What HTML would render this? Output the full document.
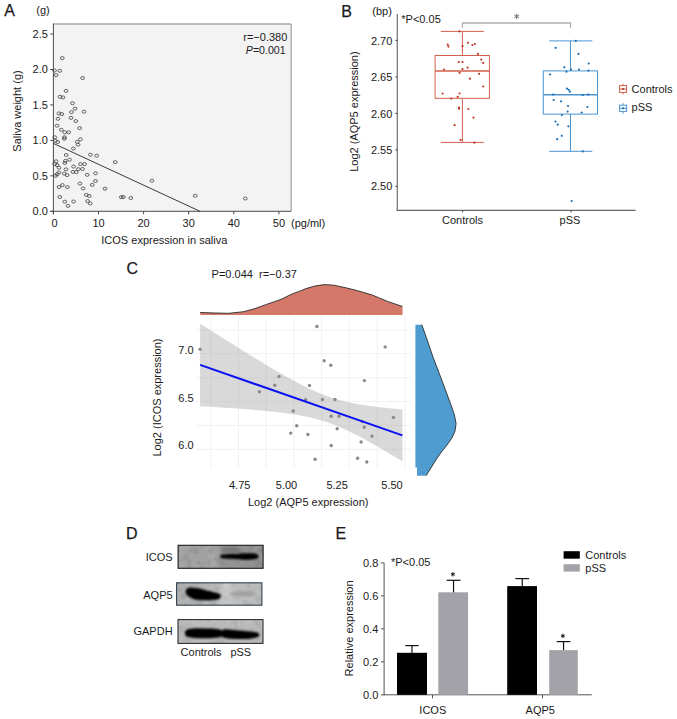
<!DOCTYPE html>
<html><head><meta charset="utf-8"><style>
html,body{margin:0;padding:0;background:#fff;}
svg{display:block;font-family:"Liberation Sans", sans-serif;}
</style></head><body>
<svg width="677" height="719" viewBox="0 0 677 719">
<rect x="0" y="0" width="677" height="719" fill="#fff"/>
<text x="4.20" y="16.00" font-size="16" text-anchor="start" fill="#1a1a1a" stroke="#1a1a1a" stroke-width="0.25">A</text>
<text x="36.30" y="13.80" font-size="11" text-anchor="start" fill="#1a1a1a" >(g)</text>
<rect x="53.40" y="24.00" width="237.80" height="187.30" fill="#f3f3f3" stroke="none" stroke-width="1" />
<line x1="53.40" y1="24.00" x2="291.20" y2="24.00" stroke="#a8a8a8" stroke-width="1.3" />
<line x1="291.20" y1="24.00" x2="291.20" y2="211.30" stroke="#a8a8a8" stroke-width="1.3" />
<line x1="53.40" y1="23.50" x2="53.40" y2="214.30" stroke="#4a4a4a" stroke-width="1" />
<line x1="50.20" y1="211.30" x2="291.20" y2="211.30" stroke="#4a4a4a" stroke-width="1" />
<line x1="50.20" y1="211.30" x2="53.40" y2="211.30" stroke="#4a4a4a" stroke-width="1" />
<text x="47.90" y="215.20" font-size="11" text-anchor="end" fill="#1a1a1a" >0.0</text>
<line x1="50.20" y1="175.85" x2="53.40" y2="175.85" stroke="#4a4a4a" stroke-width="1" />
<text x="47.90" y="179.75" font-size="11" text-anchor="end" fill="#1a1a1a" >0.5</text>
<line x1="50.20" y1="140.40" x2="53.40" y2="140.40" stroke="#4a4a4a" stroke-width="1" />
<text x="47.90" y="144.30" font-size="11" text-anchor="end" fill="#1a1a1a" >1.0</text>
<line x1="50.20" y1="104.95" x2="53.40" y2="104.95" stroke="#4a4a4a" stroke-width="1" />
<text x="47.90" y="108.85" font-size="11" text-anchor="end" fill="#1a1a1a" >1.5</text>
<line x1="50.20" y1="69.50" x2="53.40" y2="69.50" stroke="#4a4a4a" stroke-width="1" />
<text x="47.90" y="73.40" font-size="11" text-anchor="end" fill="#1a1a1a" >2.0</text>
<line x1="50.20" y1="34.05" x2="53.40" y2="34.05" stroke="#4a4a4a" stroke-width="1" />
<text x="47.90" y="37.95" font-size="11" text-anchor="end" fill="#1a1a1a" >2.5</text>
<line x1="53.40" y1="211.30" x2="53.40" y2="214.30" stroke="#4a4a4a" stroke-width="1" />
<text x="54.60" y="227.00" font-size="11" text-anchor="middle" fill="#1a1a1a" >0</text>
<line x1="98.50" y1="211.30" x2="98.50" y2="214.30" stroke="#4a4a4a" stroke-width="1" />
<text x="98.50" y="227.00" font-size="11" text-anchor="middle" fill="#1a1a1a" >10</text>
<line x1="143.60" y1="211.30" x2="143.60" y2="214.30" stroke="#4a4a4a" stroke-width="1" />
<text x="143.60" y="227.00" font-size="11" text-anchor="middle" fill="#1a1a1a" >20</text>
<line x1="188.70" y1="211.30" x2="188.70" y2="214.30" stroke="#4a4a4a" stroke-width="1" />
<text x="188.70" y="227.00" font-size="11" text-anchor="middle" fill="#1a1a1a" >30</text>
<line x1="233.80" y1="211.30" x2="233.80" y2="214.30" stroke="#4a4a4a" stroke-width="1" />
<text x="233.80" y="227.00" font-size="11" text-anchor="middle" fill="#1a1a1a" >40</text>
<line x1="278.90" y1="211.30" x2="278.90" y2="214.30" stroke="#4a4a4a" stroke-width="1" />
<text x="278.90" y="227.00" font-size="11" text-anchor="middle" fill="#1a1a1a" >50</text>
<text x="291.00" y="227.00" font-size="11" text-anchor="start" fill="#1a1a1a" >(pg/ml)</text>
<text x="164.30" y="244.00" font-size="11" text-anchor="middle" fill="#1a1a1a" >ICOS expression in saliva</text>
<text transform="translate(20.90,111.00) rotate(-90)" font-size="11" text-anchor="middle" fill="#1a1a1a">Saliva weight (g)</text>
<text x="287.30" y="40.90" font-size="11" text-anchor="end" fill="#1a1a1a" >r=−0.380</text>
<text x="285.6" y="54" font-size="10.6" text-anchor="end" fill="#1a1a1a"><tspan font-style="italic">P</tspan>=0.001</text>
<line x1="53.40" y1="143.40" x2="200.00" y2="211.30" stroke="#3a3a3a" stroke-width="1" />
<ellipse cx="62.3" cy="58.1" rx="1.9" ry="1.5" fill="none" stroke="#404040" stroke-width="0.8"/>
<ellipse cx="59.7" cy="70.8" rx="1.9" ry="1.5" fill="none" stroke="#404040" stroke-width="0.8"/>
<ellipse cx="54.5" cy="70.5" rx="1.9" ry="1.5" fill="none" stroke="#404040" stroke-width="0.8"/>
<ellipse cx="56.1" cy="75.1" rx="1.9" ry="1.5" fill="none" stroke="#404040" stroke-width="0.8"/>
<ellipse cx="82.6" cy="78.0" rx="1.9" ry="1.5" fill="none" stroke="#404040" stroke-width="0.8"/>
<ellipse cx="66.0" cy="90.9" rx="1.9" ry="1.5" fill="none" stroke="#404040" stroke-width="0.8"/>
<ellipse cx="59.9" cy="96.8" rx="1.9" ry="1.5" fill="none" stroke="#404040" stroke-width="0.8"/>
<ellipse cx="63.0" cy="97.4" rx="1.9" ry="1.5" fill="none" stroke="#404040" stroke-width="0.8"/>
<ellipse cx="72.5" cy="103.2" rx="1.9" ry="1.5" fill="none" stroke="#404040" stroke-width="0.8"/>
<ellipse cx="75.1" cy="108.6" rx="1.9" ry="1.5" fill="none" stroke="#404040" stroke-width="0.8"/>
<ellipse cx="71.5" cy="112.1" rx="1.9" ry="1.5" fill="none" stroke="#404040" stroke-width="0.8"/>
<ellipse cx="83.9" cy="111.7" rx="1.9" ry="1.5" fill="none" stroke="#404040" stroke-width="0.8"/>
<ellipse cx="58.9" cy="113.4" rx="1.9" ry="1.5" fill="none" stroke="#404040" stroke-width="0.8"/>
<ellipse cx="61.8" cy="114.1" rx="1.9" ry="1.5" fill="none" stroke="#404040" stroke-width="0.8"/>
<ellipse cx="71.0" cy="117.9" rx="1.9" ry="1.5" fill="none" stroke="#404040" stroke-width="0.8"/>
<ellipse cx="58.0" cy="118.8" rx="1.9" ry="1.5" fill="none" stroke="#404040" stroke-width="0.8"/>
<ellipse cx="75.8" cy="121.1" rx="1.9" ry="1.5" fill="none" stroke="#404040" stroke-width="0.8"/>
<ellipse cx="57.1" cy="125.7" rx="1.9" ry="1.5" fill="none" stroke="#404040" stroke-width="0.8"/>
<ellipse cx="79.6" cy="128.1" rx="1.9" ry="1.5" fill="none" stroke="#404040" stroke-width="0.8"/>
<ellipse cx="61.3" cy="129.8" rx="1.9" ry="1.5" fill="none" stroke="#404040" stroke-width="0.8"/>
<ellipse cx="64.8" cy="132.3" rx="1.9" ry="1.5" fill="none" stroke="#404040" stroke-width="0.8"/>
<ellipse cx="68.7" cy="132.3" rx="1.9" ry="1.5" fill="none" stroke="#404040" stroke-width="0.8"/>
<ellipse cx="64.4" cy="137.3" rx="1.9" ry="1.5" fill="none" stroke="#404040" stroke-width="0.8"/>
<ellipse cx="64.4" cy="138.7" rx="1.9" ry="1.5" fill="none" stroke="#404040" stroke-width="0.8"/>
<ellipse cx="54.7" cy="137.3" rx="1.9" ry="1.5" fill="none" stroke="#404040" stroke-width="0.8"/>
<ellipse cx="55.3" cy="140.8" rx="1.9" ry="1.5" fill="none" stroke="#404040" stroke-width="0.8"/>
<ellipse cx="57.7" cy="142.0" rx="1.9" ry="1.5" fill="none" stroke="#404040" stroke-width="0.8"/>
<ellipse cx="80.5" cy="139.4" rx="1.9" ry="1.5" fill="none" stroke="#404040" stroke-width="0.8"/>
<ellipse cx="77.2" cy="141.8" rx="1.9" ry="1.5" fill="none" stroke="#404040" stroke-width="0.8"/>
<ellipse cx="78.1" cy="144.7" rx="1.9" ry="1.5" fill="none" stroke="#404040" stroke-width="0.8"/>
<ellipse cx="73.4" cy="148.5" rx="1.9" ry="1.5" fill="none" stroke="#404040" stroke-width="0.8"/>
<ellipse cx="66.2" cy="155.0" rx="1.9" ry="1.5" fill="none" stroke="#404040" stroke-width="0.8"/>
<ellipse cx="90.4" cy="154.7" rx="1.9" ry="1.5" fill="none" stroke="#404040" stroke-width="0.8"/>
<ellipse cx="96.7" cy="155.7" rx="1.9" ry="1.5" fill="none" stroke="#404040" stroke-width="0.8"/>
<ellipse cx="115.2" cy="162.1" rx="1.9" ry="1.5" fill="none" stroke="#404040" stroke-width="0.8"/>
<ellipse cx="56.1" cy="161.3" rx="1.9" ry="1.5" fill="none" stroke="#404040" stroke-width="0.8"/>
<ellipse cx="65.4" cy="160.9" rx="1.9" ry="1.5" fill="none" stroke="#404040" stroke-width="0.8"/>
<ellipse cx="69.5" cy="159.7" rx="1.9" ry="1.5" fill="none" stroke="#404040" stroke-width="0.8"/>
<ellipse cx="64.8" cy="163.0" rx="1.9" ry="1.5" fill="none" stroke="#404040" stroke-width="0.8"/>
<ellipse cx="54.7" cy="163.9" rx="1.9" ry="1.5" fill="none" stroke="#404040" stroke-width="0.8"/>
<ellipse cx="57.1" cy="165.1" rx="1.9" ry="1.5" fill="none" stroke="#404040" stroke-width="0.8"/>
<ellipse cx="58.9" cy="167.7" rx="1.9" ry="1.5" fill="none" stroke="#404040" stroke-width="0.8"/>
<ellipse cx="80.5" cy="164.1" rx="1.9" ry="1.5" fill="none" stroke="#404040" stroke-width="0.8"/>
<ellipse cx="84.6" cy="164.1" rx="1.9" ry="1.5" fill="none" stroke="#404040" stroke-width="0.8"/>
<ellipse cx="73.6" cy="166.6" rx="1.9" ry="1.5" fill="none" stroke="#404040" stroke-width="0.8"/>
<ellipse cx="66.0" cy="169.4" rx="1.9" ry="1.5" fill="none" stroke="#404040" stroke-width="0.8"/>
<ellipse cx="78.4" cy="169.2" rx="1.9" ry="1.5" fill="none" stroke="#404040" stroke-width="0.8"/>
<ellipse cx="82.5" cy="169.0" rx="1.9" ry="1.5" fill="none" stroke="#404040" stroke-width="0.8"/>
<ellipse cx="73.0" cy="171.9" rx="1.9" ry="1.5" fill="none" stroke="#404040" stroke-width="0.8"/>
<ellipse cx="76.2" cy="172.1" rx="1.9" ry="1.5" fill="none" stroke="#404040" stroke-width="0.8"/>
<ellipse cx="58.9" cy="172.5" rx="1.9" ry="1.5" fill="none" stroke="#404040" stroke-width="0.8"/>
<ellipse cx="57.1" cy="174.2" rx="1.9" ry="1.5" fill="none" stroke="#404040" stroke-width="0.8"/>
<ellipse cx="55.7" cy="175.8" rx="1.9" ry="1.5" fill="none" stroke="#404040" stroke-width="0.8"/>
<ellipse cx="64.2" cy="173.6" rx="1.9" ry="1.5" fill="none" stroke="#404040" stroke-width="0.8"/>
<ellipse cx="67.1" cy="175.1" rx="1.9" ry="1.5" fill="none" stroke="#404040" stroke-width="0.8"/>
<ellipse cx="87.2" cy="174.8" rx="1.9" ry="1.5" fill="none" stroke="#404040" stroke-width="0.8"/>
<ellipse cx="95.5" cy="173.3" rx="1.9" ry="1.5" fill="none" stroke="#404040" stroke-width="0.8"/>
<ellipse cx="95.5" cy="181.0" rx="1.9" ry="1.5" fill="none" stroke="#404040" stroke-width="0.8"/>
<ellipse cx="79.9" cy="183.5" rx="1.9" ry="1.5" fill="none" stroke="#404040" stroke-width="0.8"/>
<ellipse cx="92.2" cy="184.9" rx="1.9" ry="1.5" fill="none" stroke="#404040" stroke-width="0.8"/>
<ellipse cx="62.4" cy="185.1" rx="1.9" ry="1.5" fill="none" stroke="#404040" stroke-width="0.8"/>
<ellipse cx="59.1" cy="187.0" rx="1.9" ry="1.5" fill="none" stroke="#404040" stroke-width="0.8"/>
<ellipse cx="67.4" cy="187.1" rx="1.9" ry="1.5" fill="none" stroke="#404040" stroke-width="0.8"/>
<ellipse cx="83.1" cy="188.4" rx="1.9" ry="1.5" fill="none" stroke="#404040" stroke-width="0.8"/>
<ellipse cx="105.0" cy="188.7" rx="1.9" ry="1.5" fill="none" stroke="#404040" stroke-width="0.8"/>
<ellipse cx="86.3" cy="194.9" rx="1.9" ry="1.5" fill="none" stroke="#404040" stroke-width="0.8"/>
<ellipse cx="89.2" cy="195.9" rx="1.9" ry="1.5" fill="none" stroke="#404040" stroke-width="0.8"/>
<ellipse cx="121.3" cy="197.2" rx="1.9" ry="1.5" fill="none" stroke="#404040" stroke-width="0.8"/>
<ellipse cx="123.3" cy="197.0" rx="1.9" ry="1.5" fill="none" stroke="#404040" stroke-width="0.8"/>
<ellipse cx="130.8" cy="198.0" rx="1.9" ry="1.5" fill="none" stroke="#404040" stroke-width="0.8"/>
<ellipse cx="59.8" cy="197.0" rx="1.9" ry="1.5" fill="none" stroke="#404040" stroke-width="0.8"/>
<ellipse cx="64.8" cy="201.7" rx="1.9" ry="1.5" fill="none" stroke="#404040" stroke-width="0.8"/>
<ellipse cx="73.6" cy="201.5" rx="1.9" ry="1.5" fill="none" stroke="#404040" stroke-width="0.8"/>
<ellipse cx="87.6" cy="201.1" rx="1.9" ry="1.5" fill="none" stroke="#404040" stroke-width="0.8"/>
<ellipse cx="90.2" cy="203.4" rx="1.9" ry="1.5" fill="none" stroke="#404040" stroke-width="0.8"/>
<ellipse cx="68.0" cy="205.9" rx="1.9" ry="1.5" fill="none" stroke="#404040" stroke-width="0.8"/>
<ellipse cx="151.9" cy="180.7" rx="1.9" ry="1.5" fill="none" stroke="#404040" stroke-width="0.8"/>
<ellipse cx="195.2" cy="195.8" rx="1.9" ry="1.5" fill="none" stroke="#404040" stroke-width="0.8"/>
<ellipse cx="245.4" cy="198.5" rx="1.9" ry="1.5" fill="none" stroke="#404040" stroke-width="0.8"/>
<text x="341.30" y="16.80" font-size="16" text-anchor="start" fill="#1a1a1a" stroke="#1a1a1a" stroke-width="0.25">B</text>
<text x="372.30" y="14.60" font-size="11" text-anchor="start" fill="#1a1a1a" >(bp)</text>
<line x1="397.30" y1="14.00" x2="397.30" y2="210.90" stroke="#7a7a7a" stroke-width="1.3" />
<line x1="396.80" y1="210.40" x2="635.70" y2="210.40" stroke="#6a6a6a" stroke-width="1.2" />
<line x1="395.50" y1="40.40" x2="397.30" y2="40.40" stroke="#444" stroke-width="1.1" />
<text x="392.30" y="45.10" font-size="11" text-anchor="end" fill="#1a1a1a" >2.70</text>
<line x1="395.50" y1="76.90" x2="397.30" y2="76.90" stroke="#444" stroke-width="1.1" />
<text x="392.30" y="81.30" font-size="11" text-anchor="end" fill="#1a1a1a" >2.65</text>
<line x1="395.50" y1="113.40" x2="397.30" y2="113.40" stroke="#444" stroke-width="1.1" />
<text x="392.30" y="117.50" font-size="11" text-anchor="end" fill="#1a1a1a" >2.60</text>
<line x1="395.50" y1="149.90" x2="397.30" y2="149.90" stroke="#444" stroke-width="1.1" />
<text x="392.30" y="153.70" font-size="11" text-anchor="end" fill="#1a1a1a" >2.55</text>
<line x1="395.50" y1="186.40" x2="397.30" y2="186.40" stroke="#444" stroke-width="1.1" />
<text x="392.30" y="189.90" font-size="11" text-anchor="end" fill="#1a1a1a" >2.50</text>
<line x1="462.50" y1="210.40" x2="462.50" y2="212.20" stroke="#444" stroke-width="1.1" />
<line x1="571.00" y1="210.40" x2="571.00" y2="212.20" stroke="#444" stroke-width="1.1" />
<text x="462.50" y="224.30" font-size="11" text-anchor="middle" fill="#1a1a1a" >Controls</text>
<text x="570.00" y="224.30" font-size="11" text-anchor="middle" fill="#1a1a1a" >pSS</text>
<text transform="translate(358.20,111.60) rotate(-90)" font-size="11" text-anchor="middle" fill="#1a1a1a">Log2 (AQP5 expression)</text>
<text x="401.30" y="22.60" font-size="11" text-anchor="start" fill="#1a1a1a" >*P&lt;0.05</text>
<polyline points="462.4,27.8 462.4,23.0 570.5,23.0 570.5,27.8" fill="none" stroke="#b0b0b0" stroke-width="1.3"/>
<line x1="516.70" y1="14.10" x2="516.70" y2="18.70" stroke="#6a6a6a" stroke-width="0.95" stroke-linecap="round"/>
<line x1="518.69" y1="15.25" x2="514.71" y2="17.55" stroke="#6a6a6a" stroke-width="0.95" stroke-linecap="round"/>
<line x1="518.69" y1="17.55" x2="514.71" y2="15.25" stroke="#6a6a6a" stroke-width="0.95" stroke-linecap="round"/>
<g stroke="#d3604e" stroke-width="1" fill="none">
<line x1="462.4" y1="31.4" x2="462.4" y2="55.5"/>
<line x1="462.4" y1="98.3" x2="462.4" y2="142.4"/>
<line x1="440.8" y1="31.4" x2="483.8" y2="31.4"/>
<line x1="440.8" y1="142.4" x2="483.8" y2="142.4"/>
<rect x="435.1" y="55.5" width="54.299999999999955" height="42.8"/>
<line x1="435.1" y1="71.0" x2="489.4" y2="71.0" stroke-width="1.6"/>
</g>
<g stroke="#4a94d0" stroke-width="1" fill="none">
<line x1="570.5" y1="40.9" x2="570.5" y2="70.9"/>
<line x1="570.5" y1="114.1" x2="570.5" y2="151.3"/>
<line x1="549.2" y1="40.9" x2="592.3" y2="40.9"/>
<line x1="549.2" y1="151.3" x2="592.3" y2="151.3"/>
<rect x="543.3" y="70.9" width="54.200000000000045" height="43.19999999999999"/>
<line x1="543.3" y1="94.8" x2="597.5" y2="94.8" stroke-width="1.6"/>
</g>
<circle cx="459.4" cy="31.4" r="1.1" fill="#c0392b"/>
<circle cx="447.8" cy="44.7" r="1.1" fill="#c0392b"/>
<circle cx="448.4" cy="46.6" r="1.1" fill="#c0392b"/>
<circle cx="462.5" cy="46.2" r="1.1" fill="#c0392b"/>
<circle cx="468" cy="42.8" r="1.1" fill="#c0392b"/>
<circle cx="472.4" cy="45" r="1.1" fill="#c0392b"/>
<circle cx="474.9" cy="44" r="1.1" fill="#c0392b"/>
<circle cx="477.9" cy="53.9" r="1.1" fill="#c0392b"/>
<circle cx="481.3" cy="59.6" r="1.1" fill="#c0392b"/>
<circle cx="483.2" cy="62.9" r="1.1" fill="#c0392b"/>
<circle cx="458.7" cy="62.1" r="1.1" fill="#c0392b"/>
<circle cx="462.5" cy="62.1" r="1.1" fill="#c0392b"/>
<circle cx="467.6" cy="67.6" r="1.1" fill="#c0392b"/>
<circle cx="444.1" cy="69.5" r="1.1" fill="#c0392b"/>
<circle cx="462.5" cy="69.1" r="1.1" fill="#c0392b"/>
<circle cx="459.6" cy="72.8" r="1.1" fill="#c0392b"/>
<circle cx="479.1" cy="73.8" r="1.1" fill="#c0392b"/>
<circle cx="469.9" cy="78.7" r="1.1" fill="#c0392b"/>
<circle cx="483.2" cy="86.5" r="1.1" fill="#c0392b"/>
<circle cx="442.6" cy="93.5" r="1.1" fill="#c0392b"/>
<circle cx="459.6" cy="93.5" r="1.1" fill="#c0392b"/>
<circle cx="457.7" cy="96.9" r="1.1" fill="#c0392b"/>
<circle cx="451.3" cy="98.6" r="1.1" fill="#c0392b"/>
<circle cx="459.1" cy="107.5" r="1.1" fill="#c0392b"/>
<circle cx="459.1" cy="108.7" r="1.1" fill="#c0392b"/>
<circle cx="468.3" cy="109" r="1.1" fill="#c0392b"/>
<circle cx="473.5" cy="117.6" r="1.1" fill="#c0392b"/>
<circle cx="454.6" cy="125.2" r="1.1" fill="#c0392b"/>
<circle cx="460.6" cy="139.9" r="1.1" fill="#c0392b"/>
<circle cx="474.4" cy="142.7" r="1.1" fill="#c0392b"/>
<circle cx="575.8" cy="40.9" r="1.1" fill="#1c6fb5"/>
<circle cx="555.6" cy="47.8" r="1.1" fill="#1c6fb5"/>
<circle cx="578.5" cy="53.9" r="1.1" fill="#1c6fb5"/>
<circle cx="588.8" cy="63.5" r="1.1" fill="#1c6fb5"/>
<circle cx="564.3" cy="67.3" r="1.1" fill="#1c6fb5"/>
<circle cx="571" cy="69.5" r="1.1" fill="#1c6fb5"/>
<circle cx="578.9" cy="69.5" r="1.1" fill="#1c6fb5"/>
<circle cx="588.4" cy="70.6" r="1.1" fill="#1c6fb5"/>
<circle cx="566.4" cy="71.7" r="1.1" fill="#1c6fb5"/>
<circle cx="550" cy="74.5" r="1.1" fill="#1c6fb5"/>
<circle cx="567" cy="88.6" r="1.1" fill="#1c6fb5"/>
<circle cx="568.7" cy="89.8" r="1.1" fill="#1c6fb5"/>
<circle cx="569.9" cy="91.7" r="1.1" fill="#1c6fb5"/>
<circle cx="553.2" cy="94.6" r="1.1" fill="#1c6fb5"/>
<circle cx="582.8" cy="95.1" r="1.1" fill="#1c6fb5"/>
<circle cx="588.2" cy="94.6" r="1.1" fill="#1c6fb5"/>
<circle cx="553.7" cy="100.1" r="1.1" fill="#1c6fb5"/>
<circle cx="561.1" cy="101.3" r="1.1" fill="#1c6fb5"/>
<circle cx="568" cy="106" r="1.1" fill="#1c6fb5"/>
<circle cx="587.4" cy="107" r="1.1" fill="#1c6fb5"/>
<circle cx="567.6" cy="111.6" r="1.1" fill="#1c6fb5"/>
<circle cx="581.7" cy="112.5" r="1.1" fill="#1c6fb5"/>
<circle cx="561.8" cy="115.1" r="1.1" fill="#1c6fb5"/>
<circle cx="555.5" cy="121.5" r="1.1" fill="#1c6fb5"/>
<circle cx="557.7" cy="124.7" r="1.1" fill="#1c6fb5"/>
<circle cx="568.4" cy="126.3" r="1.1" fill="#1c6fb5"/>
<circle cx="561.8" cy="135.8" r="1.1" fill="#1c6fb5"/>
<circle cx="557.2" cy="139.2" r="1.1" fill="#1c6fb5"/>
<circle cx="582.8" cy="151.4" r="1.1" fill="#1c6fb5"/>
<circle cx="571.7" cy="201" r="1.1" fill="#1c6fb5"/>
<g stroke="#d3604e" stroke-width="1" fill="none"><line x1="623.1" y1="83.8" x2="623.1" y2="94.3"/><rect x="619.6" y="85.6" width="7.0" height="6.800000000000011" fill="#fff"/><line x1="619.6" y1="89.0" x2="626.6" y2="89.0"/></g>
<circle cx="623.1" cy="89.0" r="1.1" fill="#c0392b"/>
<g stroke="#4a94d0" stroke-width="1" fill="none"><line x1="623.1" y1="103.2" x2="623.1" y2="113.6"/><rect x="619.6" y="105.2" width="7.0" height="6.200000000000003" fill="#fff"/><line x1="619.6" y1="108.30000000000001" x2="626.6" y2="108.30000000000001"/></g>
<circle cx="623.1" cy="108.30000000000001" r="1.1" fill="#1c6fb5"/>
<text x="631.60" y="92.90" font-size="11" text-anchor="start" fill="#1a1a1a" >Controls</text>
<text x="631.60" y="111.30" font-size="11" text-anchor="start" fill="#1a1a1a" >pSS</text>
<text x="126.40" y="274.40" font-size="16" text-anchor="start" fill="#1a1a1a" stroke="#1a1a1a" stroke-width="0.25">C</text>
<text x="211.60" y="278.40" font-size="11" text-anchor="start" fill="#1a1a1a" >P=0.044&#160;&#160;r=−0.37</text>
<line x1="211.00" y1="317.00" x2="211.00" y2="467.70" stroke="#f1f1f1" stroke-width="1" />
<line x1="238.50" y1="317.00" x2="238.50" y2="467.70" stroke="#f1f1f1" stroke-width="1" />
<line x1="266.20" y1="317.00" x2="266.20" y2="467.70" stroke="#f1f1f1" stroke-width="1" />
<line x1="293.90" y1="317.00" x2="293.90" y2="467.70" stroke="#f1f1f1" stroke-width="1" />
<line x1="321.70" y1="317.00" x2="321.70" y2="467.70" stroke="#f1f1f1" stroke-width="1" />
<line x1="349.30" y1="317.00" x2="349.30" y2="467.70" stroke="#f1f1f1" stroke-width="1" />
<line x1="377.20" y1="317.00" x2="377.20" y2="467.70" stroke="#f1f1f1" stroke-width="1" />
<line x1="405.00" y1="317.00" x2="405.00" y2="467.70" stroke="#f1f1f1" stroke-width="1" />
<line x1="196.00" y1="330.10" x2="410.50" y2="330.10" stroke="#f1f1f1" stroke-width="1" />
<line x1="196.00" y1="353.60" x2="410.50" y2="353.60" stroke="#f1f1f1" stroke-width="1" />
<line x1="196.00" y1="377.80" x2="410.50" y2="377.80" stroke="#f1f1f1" stroke-width="1" />
<line x1="196.00" y1="401.40" x2="410.50" y2="401.40" stroke="#f1f1f1" stroke-width="1" />
<line x1="196.00" y1="425.40" x2="410.50" y2="425.40" stroke="#f1f1f1" stroke-width="1" />
<line x1="196.00" y1="449.30" x2="410.50" y2="449.30" stroke="#f1f1f1" stroke-width="1" />
<polygon points="200.10,323.63 203.47,325.77 206.84,327.92 210.22,330.06 213.59,332.20 216.96,334.34 220.33,336.47 223.70,338.60 227.07,340.72 230.44,342.84 233.82,344.95 237.19,347.06 240.56,349.16 243.93,351.26 247.30,353.35 250.67,355.43 254.05,357.50 257.42,359.56 260.79,361.61 264.16,363.64 267.53,365.67 270.90,367.67 274.28,369.67 277.65,371.64 281.02,373.59 284.39,375.51 287.76,377.41 291.13,379.28 294.51,381.11 297.88,382.91 301.25,384.66 304.62,386.36 307.99,388.01 311.37,389.60 314.74,391.12 318.11,392.58 321.48,393.96 324.85,395.26 328.22,396.49 331.59,397.63 334.97,398.70 338.34,399.68 341.71,400.59 345.08,401.43 348.45,402.21 351.82,402.92 355.20,403.58 358.57,404.19 361.94,404.75 365.31,405.28 368.68,405.77 372.05,406.23 375.43,406.66 378.80,407.06 382.17,407.45 385.54,407.81 388.91,408.16 392.28,408.49 395.66,408.80 399.03,409.10 402.40,409.40 402.40,461.41 399.03,459.35 395.66,457.30 392.28,455.27 388.91,453.25 385.54,451.24 382.17,449.26 378.80,447.29 375.43,445.34 372.05,443.43 368.68,441.53 365.31,439.67 361.94,437.85 358.57,436.06 355.20,434.32 351.82,432.63 348.45,431.00 345.08,429.42 341.71,427.91 338.34,426.47 334.97,425.11 331.59,423.82 328.22,422.61 324.85,421.49 321.48,420.44 318.11,419.47 314.74,418.58 311.37,417.75 307.99,416.99 304.62,416.29 301.25,415.64 297.88,415.05 294.51,414.49 291.13,413.97 287.76,413.49 284.39,413.04 281.02,412.61 277.65,412.21 274.28,411.84 270.90,411.48 267.53,411.13 264.16,410.81 260.79,410.49 257.42,410.19 254.05,409.90 250.67,409.62 247.30,409.35 243.93,409.09 240.56,408.84 237.19,408.59 233.82,408.35 230.44,408.11 227.07,407.88 223.70,407.65 220.33,407.43 216.96,407.21 213.59,407.00 210.22,406.79 206.84,406.58 203.47,406.38 200.10,406.17" fill="#999999" fill-opacity="0.3725"/>
<circle cx="200.1" cy="349.3" r="1.7" fill="#8a8a8a"/>
<circle cx="316.9" cy="326.5" r="1.7" fill="#8a8a8a"/>
<circle cx="385.2" cy="346.9" r="1.7" fill="#8a8a8a"/>
<circle cx="324.2" cy="360.7" r="1.7" fill="#8a8a8a"/>
<circle cx="330.8" cy="365.3" r="1.7" fill="#8a8a8a"/>
<circle cx="364.4" cy="380.6" r="1.7" fill="#8a8a8a"/>
<circle cx="279" cy="376.4" r="1.7" fill="#8a8a8a"/>
<circle cx="274.8" cy="385.2" r="1.7" fill="#8a8a8a"/>
<circle cx="259.4" cy="391.7" r="1.7" fill="#8a8a8a"/>
<circle cx="309.5" cy="385.5" r="1.7" fill="#8a8a8a"/>
<circle cx="305.6" cy="399.7" r="1.7" fill="#8a8a8a"/>
<circle cx="322.4" cy="399.5" r="1.7" fill="#8a8a8a"/>
<circle cx="335" cy="399.5" r="1.7" fill="#8a8a8a"/>
<circle cx="293.2" cy="411" r="1.7" fill="#8a8a8a"/>
<circle cx="296.7" cy="425.7" r="1.7" fill="#8a8a8a"/>
<circle cx="290.7" cy="433.1" r="1.7" fill="#8a8a8a"/>
<circle cx="307.9" cy="434.5" r="1.7" fill="#8a8a8a"/>
<circle cx="331.2" cy="416.3" r="1.7" fill="#8a8a8a"/>
<circle cx="339" cy="416.3" r="1.7" fill="#8a8a8a"/>
<circle cx="393.4" cy="417.5" r="1.7" fill="#8a8a8a"/>
<circle cx="362.4" cy="421.6" r="1.7" fill="#8a8a8a"/>
<circle cx="364.3" cy="427.3" r="1.7" fill="#8a8a8a"/>
<circle cx="337.2" cy="428.7" r="1.7" fill="#8a8a8a"/>
<circle cx="372" cy="436.1" r="1.7" fill="#8a8a8a"/>
<circle cx="361.1" cy="442" r="1.7" fill="#8a8a8a"/>
<circle cx="331.2" cy="445.5" r="1.7" fill="#8a8a8a"/>
<circle cx="315.1" cy="459.3" r="1.7" fill="#8a8a8a"/>
<circle cx="357.6" cy="458.3" r="1.7" fill="#8a8a8a"/>
<circle cx="366.8" cy="462" r="1.7" fill="#8a8a8a"/>
<line x1="200.10" y1="364.90" x2="402.40" y2="435.40" stroke="#0a10f0" stroke-width="2" />
<path d="M200.2,315.1 L200.2,312.5 L215,313.0 L229,313.3 L243.7,311.7 L255,308.6 L266.5,304.4 L280,299.8 L292.5,293.8 L299.2,291.4 L306,288.6 L314.6,286.1 L324.2,284.6 L333.8,285.2 L345,287.6 L356.8,290.5 L372.2,295 L387.5,301.4 L402.5,306.5 L402.6,315.1 Z" fill="#d4786a"/>
<path d="M200.2,312.5 L215,313.0 L229,313.3 L243.7,311.7 L255,308.6 L266.5,304.4 L280,299.8 L292.5,293.8 L299.2,291.4 L306,288.6 L314.6,286.1 L324.2,284.6 L333.8,285.2 L345,287.6 L356.8,290.5 L372.2,295 L387.5,301.4 L402.5,306.5" fill="none" stroke="#2a2a2a" stroke-width="0.9" stroke-linejoin="round"/>
<path d="M415.4,324.7 L421.8,324.7 L427.5,341 L433.1,357.3 L437.6,369 L442.1,381 L446.5,392.8 L450.9,404.7 L454.3,414.5 L456.1,423.6 L455,431 L452,437.8 L447,445 L441.4,452 L436.5,459 L432,466.2 L429,471 L426,475.7 L417,475.7 L417,467.4 L415.4,467.4 Z" fill="#4f9dd0"/>
<path d="M421.8,324.7 L427.5,341 L433.1,357.3 L437.6,369 L442.1,381 L446.5,392.8 L450.9,404.7 L454.3,414.5 L456.1,423.6 L455,431 L452,437.8 L447,445 L441.4,452 L436.5,459 L432,466.2 L429,471 L426,475.7" fill="none" stroke="#2a2a2a" stroke-width="0.9" stroke-linejoin="round"/>
<text x="193.60" y="353.90" font-size="11" text-anchor="end" fill="#1a1a1a" >7.0</text>
<text x="193.60" y="401.70" font-size="11" text-anchor="end" fill="#1a1a1a" >6.5</text>
<text x="193.60" y="448.80" font-size="11" text-anchor="end" fill="#1a1a1a" >6.0</text>
<text x="239.70" y="489.40" font-size="11" text-anchor="middle" fill="#1a1a1a" >4.75</text>
<text x="286.50" y="489.40" font-size="11" text-anchor="middle" fill="#1a1a1a" >5.00</text>
<text x="337.10" y="489.40" font-size="11" text-anchor="middle" fill="#1a1a1a" >5.25</text>
<text x="392.00" y="489.40" font-size="11" text-anchor="middle" fill="#1a1a1a" >5.50</text>
<text x="308.20" y="506.10" font-size="11" text-anchor="middle" fill="#1a1a1a" >Log2 (AQP5 expression)</text>
<text transform="translate(160.80,397.50) rotate(-90)" font-size="11" text-anchor="middle" fill="#1a1a1a">Log2 (ICOS expression)</text>
<text x="126.10" y="538.70" font-size="16" text-anchor="start" fill="#1a1a1a" stroke="#1a1a1a" stroke-width="0.25">D</text>
<defs>
<linearGradient id="g1" x1="0" x2="1" y1="0" y2="0">
<stop offset="0" stop-color="#a2a2a2"/><stop offset="0.3" stop-color="#9c9c9c"/><stop offset="0.42" stop-color="#a4a4a4"/><stop offset="0.52" stop-color="#909090"/><stop offset="1" stop-color="#8e8e8e"/></linearGradient>
<linearGradient id="g2" x1="0" x2="1" y1="0" y2="0">
<stop offset="0" stop-color="#acacac"/><stop offset="0.45" stop-color="#b4b4b4"/><stop offset="0.58" stop-color="#cacaca"/><stop offset="0.68" stop-color="#bdbdbd"/><stop offset="1" stop-color="#bababa"/></linearGradient>
<linearGradient id="g3" x1="0" x2="0" y1="0" y2="1">
<stop offset="0" stop-color="#bdbdbd"/><stop offset="0.5" stop-color="#b3b3b3"/><stop offset="1" stop-color="#b6b6b6"/></linearGradient>
<filter id="bl" x="-20%" y="-60%" width="140%" height="220%"><feGaussianBlur stdDeviation="0.8"/></filter>
<filter id="bl2" x="-30%" y="-80%" width="160%" height="260%"><feGaussianBlur stdDeviation="1.6"/></filter>
<filter id="nz" x="0" y="0" width="100%" height="100%"><feTurbulence type="fractalNoise" baseFrequency="0.13" numOctaves="2" seed="7"/><feGaussianBlur stdDeviation="0.6"/><feColorMatrix type="matrix" values="4 0 0 0 -1.5  4 0 0 0 -1.5  4 0 0 0 -1.5  0 0 0 0 0.16"/></filter>
</defs>
<rect x="178.10" y="545.30" width="85.00" height="23.00" fill="url(#g1)" stroke="none" stroke-width="1" />
<rect x="178.1" y="545.3" width="85" height="23" filter="url(#nz)" opacity="0.3"/>
<ellipse cx="231" cy="550" rx="10" ry="3.5" fill="#666" filter="url(#bl2)" opacity="0.6"/>
<path d="M220.90,556.30 C220.97,555.92 220.92,555.45 222.40,555.20 C223.88,554.95 227.33,554.90 229.80,554.80 C232.27,554.70 234.75,554.73 237.20,554.60 C239.65,554.47 242.05,554.10 244.50,554.00 C246.95,553.90 249.92,553.88 251.90,554.00 C253.88,554.12 255.40,554.32 256.40,554.70 C257.40,555.08 257.90,555.72 257.90,556.30 C257.90,556.88 257.40,557.78 256.40,558.20 C255.40,558.62 253.88,558.67 251.90,558.80 C249.92,558.93 246.58,559.03 244.50,559.00 C242.42,558.97 241.23,558.77 239.40,558.60 C237.57,558.43 235.72,558.12 233.50,558.00 C231.28,557.88 228.02,557.98 226.10,557.90 C224.18,557.82 222.87,557.77 222.00,557.50 C221.13,557.23 220.83,556.68 220.90,556.30 Z" fill="#050505" stroke="#050505" stroke-width="1.4" filter="url(#bl)"/>
<rect x="178.10" y="545.30" width="85.00" height="23.00" fill="none" stroke="#1a1a1a" stroke-width="1.1" />
<rect x="176.60" y="582.80" width="85.30" height="22.40" fill="url(#g2)" stroke="none" stroke-width="1" />
<rect x="176.6" y="582.8" width="85.3" height="22.4" filter="url(#nz)" opacity="0.3"/>
<ellipse cx="243" cy="593.8" rx="13.5" ry="2.6" fill="#999" filter="url(#bl2)" opacity="0.85"/>
<path d="M186.30,591.30 C186.30,590.47 186.58,589.70 187.30,589.20 C188.02,588.70 189.15,588.37 190.60,588.30 C192.05,588.23 194.00,588.52 196.00,588.80 C198.00,589.08 200.40,589.50 202.60,590.00 C204.80,590.50 206.98,591.22 209.20,591.80 C211.42,592.38 214.22,593.05 215.90,593.50 C217.58,593.95 218.60,593.98 219.30,594.50 C220.00,595.02 220.32,595.90 220.10,596.60 C219.88,597.30 219.37,598.23 218.00,598.70 C216.63,599.17 214.47,599.25 211.90,599.40 C209.33,599.55 205.25,599.65 202.60,599.60 C199.95,599.55 198.00,599.57 196.00,599.10 C194.00,598.63 192.05,597.62 190.60,596.80 C189.15,595.98 188.02,595.12 187.30,594.20 C186.58,593.28 186.30,592.13 186.30,591.30 Z" fill="#050505" stroke="#050505" stroke-width="1.4" filter="url(#bl)"/>
<rect x="176.60" y="582.80" width="85.30" height="22.40" fill="none" stroke="#33404e" stroke-width="1.1" />
<rect x="178.00" y="619.60" width="85.00" height="23.80" fill="url(#g3)" stroke="none" stroke-width="1" />
<rect x="178" y="619.6" width="85" height="23.8" filter="url(#nz)" opacity="0.3"/>
<path d="M185.50,633.50 C185.42,632.47 185.75,630.95 187.50,630.20 C189.25,629.45 192.38,629.15 196.00,629.00 C199.62,628.85 205.43,629.13 209.20,629.30 C212.97,629.47 216.48,629.73 218.60,630.00 C220.72,630.27 220.80,630.90 221.90,630.90 C223.00,630.90 223.53,630.07 225.20,630.00 C226.87,629.93 229.02,630.25 231.90,630.50 C234.78,630.75 238.97,631.18 242.50,631.50 C246.03,631.82 250.55,632.05 253.10,632.40 C255.65,632.75 256.88,633.17 257.80,633.60 C258.72,634.03 258.60,634.57 258.60,635.00 C258.60,635.43 259.15,635.70 257.80,636.20 C256.45,636.70 254.17,637.65 250.50,638.00 C246.83,638.35 240.02,638.42 235.80,638.30 C231.58,638.18 227.52,637.70 225.20,637.30 C222.88,636.90 223.00,636.00 221.90,635.90 C220.80,635.80 220.72,636.42 218.60,636.70 C216.48,636.98 212.97,637.48 209.20,637.60 C205.43,637.72 199.53,637.60 196.00,637.40 C192.47,637.20 189.75,637.05 188.00,636.40 C186.25,635.75 185.58,634.53 185.50,633.50 Z" fill="#060606" stroke="#060606" stroke-width="1.4" filter="url(#bl)"/>
<rect x="178.00" y="619.60" width="85.00" height="23.80" fill="none" stroke="#2e2e2e" stroke-width="1.1" />
<text x="172.60" y="561.00" font-size="11" text-anchor="end" fill="#1a1a1a" >ICOS</text>
<text x="172.60" y="598.60" font-size="11" text-anchor="end" fill="#1a1a1a" >AQP5</text>
<text x="172.60" y="635.40" font-size="11" text-anchor="end" fill="#1a1a1a" >GAPDH</text>
<text x="180.60" y="656.20" font-size="11" text-anchor="start" fill="#1a1a1a" >Controls</text>
<text x="230.40" y="656.20" font-size="11" text-anchor="start" fill="#1a1a1a" >pSS</text>
<text x="335.40" y="539.10" font-size="16" text-anchor="start" fill="#1a1a1a" stroke="#1a1a1a" stroke-width="0.25">E</text>
<line x1="384.10" y1="562.90" x2="384.10" y2="695.30" stroke="#555" stroke-width="1" />
<line x1="383.60" y1="694.80" x2="591.80" y2="694.80" stroke="#555" stroke-width="1" />
<line x1="380.90" y1="694.80" x2="384.10" y2="694.80" stroke="#555" stroke-width="1" />
<text x="378.30" y="698.70" font-size="11" text-anchor="end" fill="#1a1a1a" >0.0</text>
<line x1="380.90" y1="661.82" x2="384.10" y2="661.82" stroke="#555" stroke-width="1" />
<text x="378.30" y="665.72" font-size="11" text-anchor="end" fill="#1a1a1a" >0.2</text>
<line x1="380.90" y1="628.84" x2="384.10" y2="628.84" stroke="#555" stroke-width="1" />
<text x="378.30" y="632.74" font-size="11" text-anchor="end" fill="#1a1a1a" >0.4</text>
<line x1="380.90" y1="595.86" x2="384.10" y2="595.86" stroke="#555" stroke-width="1" />
<text x="378.30" y="599.76" font-size="11" text-anchor="end" fill="#1a1a1a" >0.6</text>
<line x1="380.90" y1="562.88" x2="384.10" y2="562.88" stroke="#555" stroke-width="1" />
<text x="378.30" y="566.78" font-size="11" text-anchor="end" fill="#1a1a1a" >0.8</text>
<line x1="432.50" y1="694.80" x2="432.50" y2="698.40" stroke="#555" stroke-width="1" />
<line x1="542.50" y1="694.80" x2="542.50" y2="698.40" stroke="#555" stroke-width="1" />
<text x="432.80" y="713.80" font-size="11" text-anchor="middle" fill="#1a1a1a" >ICOS</text>
<text x="540.30" y="713.80" font-size="11" text-anchor="middle" fill="#1a1a1a" >AQP5</text>
<text x="391.00" y="566.40" font-size="11" text-anchor="start" fill="#1a1a1a" >*P&lt;0.05</text>
<text transform="translate(353.40,628.40) rotate(-90)" font-size="11" text-anchor="middle" fill="#1a1a1a">Relative expression</text>
<rect x="397.00" y="652.80" width="30.00" height="42.00" fill="#000" stroke="none" stroke-width="1" />
<line x1="411.95" y1="645.60" x2="411.95" y2="652.80" stroke="#111" stroke-width="1.2" />
<line x1="405.30" y1="645.60" x2="418.60" y2="645.60" stroke="#111" stroke-width="1.2" />
<rect x="438.30" y="592.30" width="29.80" height="102.50" fill="#a2a2a8" stroke="none" stroke-width="1" />
<line x1="453.55" y1="580.30" x2="453.55" y2="592.30" stroke="#111" stroke-width="1.2" />
<line x1="446.70" y1="580.30" x2="460.40" y2="580.30" stroke="#111" stroke-width="1.2" />
<rect x="507.20" y="586.10" width="29.80" height="108.70" fill="#000" stroke="none" stroke-width="1" />
<line x1="522.25" y1="578.60" x2="522.25" y2="586.10" stroke="#111" stroke-width="1.2" />
<line x1="515.40" y1="578.60" x2="529.10" y2="578.60" stroke="#111" stroke-width="1.2" />
<rect x="549.20" y="650.10" width="28.60" height="44.70" fill="#a2a2a8" stroke="none" stroke-width="1" />
<line x1="563.55" y1="641.60" x2="563.55" y2="650.10" stroke="#111" stroke-width="1.2" />
<line x1="556.70" y1="641.60" x2="570.40" y2="641.60" stroke="#111" stroke-width="1.2" />
<line x1="452.90" y1="572.50" x2="452.90" y2="576.10" stroke="#111" stroke-width="0.95" stroke-linecap="round"/>
<line x1="454.46" y1="573.40" x2="451.34" y2="575.20" stroke="#111" stroke-width="0.95" stroke-linecap="round"/>
<line x1="454.46" y1="575.20" x2="451.34" y2="573.40" stroke="#111" stroke-width="0.95" stroke-linecap="round"/>
<line x1="562.90" y1="634.10" x2="562.90" y2="637.70" stroke="#111" stroke-width="0.95" stroke-linecap="round"/>
<line x1="564.46" y1="635.00" x2="561.34" y2="636.80" stroke="#111" stroke-width="0.95" stroke-linecap="round"/>
<line x1="564.46" y1="636.80" x2="561.34" y2="635.00" stroke="#111" stroke-width="0.95" stroke-linecap="round"/>
<rect x="563.60" y="551.20" width="16.20" height="7.50" fill="#000" stroke="none" stroke-width="1" />
<rect x="563.60" y="564.20" width="16.20" height="7.40" fill="#a2a2a8" stroke="none" stroke-width="1" />
<text x="585.30" y="559.00" font-size="11" text-anchor="start" fill="#1a1a1a" >Controls</text>
<text x="585.30" y="571.90" font-size="11" text-anchor="start" fill="#1a1a1a" >pSS</text>
</svg>
</body></html>
